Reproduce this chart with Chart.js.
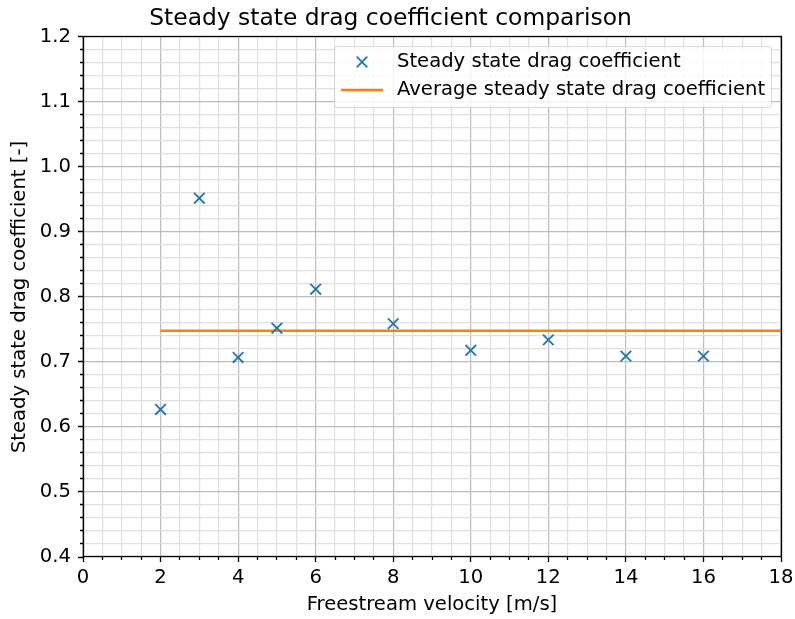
<!DOCTYPE html>
<html>
<head>
<meta charset="utf-8">
<script src="https://cdn.jsdelivr.net/npm/chart.js@4.4.1/dist/chart.umd.min.js"></script>
<style>
  body { margin: 0; background: #fff; }
</style>
</head>
<body>
<canvas id="chart" width="795" height="619"></canvas>
<script>
// Measured steady state drag coefficient per freestream velocity
const velocities = [2, 3, 4, 5, 6, 8, 10, 12, 14, 16];
const dragCoefficients = [0.627, 0.952, 0.707, 0.752, 0.812, 0.759, 0.718, 0.734, 0.709, 0.709];

// Average line, drawn from the first velocity to the axis end
const averageVelocities = [2, 18];
const averageDrag = [0.748, 0.748];

const xRange = [0, 18];
const yRange = [0.4, 1.2];
const xMajorStep = 2, xMinorStep = 0.5;
const yMajorStep = 0.1, yMinorStep = 0.02;

const FONT = "'DejaVu Sans', 'Liberation Sans', sans-serif";
const LABEL_SIZE = 19.6;
const TITLE_SIZE = 23.4;
const BLUE = '#1f77b4';
const ORANGE = '#ff7f0e';
const MAJOR_GRID = '#bcbcbc';
const MINOR_GRID = '#dfdfdf';

const isMultiple = (v, step) => Math.abs(v / step - Math.round(v / step)) < 1e-6;
const align = p => Math.round(p - 0.5) + 0.5;

// Black frame around the plot plus matplotlib-style major/minor tick marks
const frameAndTicks = {
  id: 'frameAndTicks',
  afterDraw(chart) {
    const { ctx, chartArea: a, scales: { x, y } } = chart;
    ctx.save();
    ctx.strokeStyle = '#000';
    ctx.lineWidth = 1.3;
    ctx.beginPath();
    x.ticks.forEach(t => {
      const px = align(x.getPixelForValue(t.value));
      const len = isMultiple(t.value, xMajorStep) ? 5 : 3;
      ctx.moveTo(px, a.bottom);
      ctx.lineTo(px, a.bottom + len);
    });
    y.ticks.forEach(t => {
      const py = align(y.getPixelForValue(t.value));
      const len = isMultiple(t.value, yMajorStep) ? 5 : 3;
      ctx.moveTo(a.left, py);
      ctx.lineTo(a.left - len, py);
    });
    ctx.stroke();
    ctx.strokeRect(align(a.left), align(a.top), Math.round(a.right - a.left), Math.round(a.bottom - a.top));
    ctx.restore();
  }
};

// Legend box in the upper right corner of the plot area
const insideLegend = {
  id: 'insideLegend',
  afterDraw(chart) {
    const { ctx, chartArea: a } = chart;
    const sets = chart.data.datasets;
    const boxW = 437, boxH = 61;
    const bx = a.right - 10 - boxW;
    const by = a.top + 9;
    ctx.save();
    ctx.beginPath();
    ctx.roundRect(bx + 0.5, by + 0.5, boxW, boxH, 3);
    ctx.fillStyle = 'rgba(255,255,255,0.8)';
    ctx.fill();
    ctx.strokeStyle = 'rgba(204,204,204,0.8)';
    ctx.lineWidth = 1;
    ctx.stroke();

    const rowY = [by + 16, by + 44];
    const markX = bx + 28;

    // scatter marker
    const r = 5.3;
    ctx.strokeStyle = BLUE;
    ctx.lineWidth = 1.8;
    ctx.beginPath();
    ctx.moveTo(markX - r, rowY[0] - r); ctx.lineTo(markX + r, rowY[0] + r);
    ctx.moveTo(markX - r, rowY[0] + r); ctx.lineTo(markX + r, rowY[0] - r);
    ctx.stroke();

    // line sample
    ctx.strokeStyle = ORANGE;
    ctx.lineWidth = 2.4;
    ctx.beginPath();
    ctx.moveTo(markX - 21, rowY[1]);
    ctx.lineTo(markX + 21, rowY[1]);
    ctx.stroke();

    ctx.fillStyle = '#000';
    ctx.font = `${LABEL_SIZE}px ${FONT}`;
    ctx.textBaseline = 'middle';
    ctx.textAlign = 'left';
    sets.forEach((ds, i) => ctx.fillText(ds.label, bx + 63, rowY[i]));
    ctx.restore();
  }
};

const ctx = document.getElementById('chart').getContext('2d');
new Chart(ctx, {
  type: 'scatter',
  data: {
    datasets: [
      {
        label: 'Steady state drag coefficient',
        data: velocities.map((v, i) => ({ x: v, y: dragCoefficients[i] })),
        pointStyle: 'crossRot',
        pointRadius: 7.5,
        pointBorderWidth: 1.8,
        borderColor: BLUE,
        backgroundColor: BLUE,
        order: 1,
      },
      {
        type: 'line',
        label: 'Average steady state drag coefficient',
        data: averageVelocities.map((v, i) => ({ x: v, y: averageDrag[i] })),
        borderColor: ORANGE,
        borderWidth: 2.4,
        pointRadius: 0,
        fill: false,
        order: 2,
      },
    ],
  },
  options: {
    responsive: false,
    animation: false,
    devicePixelRatio: 1,
    layout: { padding: { left: 0, right: 14, top: 0, bottom: 0 } },
    plugins: {
      legend: { display: false },
      tooltip: { enabled: false },
      title: {
        display: true,
        text: 'Steady state drag coefficient comparison',
        color: '#000',
        font: { family: FONT, size: TITLE_SIZE, weight: 'normal' },
        padding: { top: 5, bottom: 3.9 },
      },
    },
    scales: {
      x: {
        type: 'linear',
        min: xRange[0],
        max: xRange[1],
        afterFit: scale => {
          scale.height = 62;
          scale.paddingLeft = 0;
          scale.paddingRight = 0;
        },
        ticks: {
          stepSize: xMinorStep,
          autoSkip: false,
          maxRotation: 0,
          padding: 9,
          color: '#000',
          font: { family: FONT, size: LABEL_SIZE },
          callback: v => isMultiple(v, xMajorStep) ? String(Math.round(v)) : '',
        },
        grid: {
          drawTicks: false,
          lineWidth: 1.2,
          color: c => isMultiple(c.tick.value, xMajorStep) ? MAJOR_GRID : MINOR_GRID,
        },
        border: { display: false },
        title: {
          display: true,
          text: 'Freestream velocity [m/s]',
          color: '#000',
          font: { family: FONT, size: LABEL_SIZE },
          padding: { top: 0, bottom: 2.5 },
        },
      },
      y: {
        type: 'linear',
        min: yRange[0],
        max: yRange[1],
        afterFit: scale => {
          scale.width = 83;
          scale.paddingTop = 0;
          scale.paddingBottom = 0;
        },
        ticks: {
          stepSize: yMinorStep,
          autoSkip: false,
          padding: 12,
          color: '#000',
          font: { family: FONT, size: LABEL_SIZE },
          callback: v => isMultiple(v, yMajorStep) ? v.toFixed(1) : '',
        },
        grid: {
          drawTicks: false,
          lineWidth: 1.2,
          color: c => isMultiple(c.tick.value, yMajorStep) ? MAJOR_GRID : MINOR_GRID,
        },
        border: { display: false },
        title: {
          display: true,
          text: 'Steady state drag coefficient [-]',
          color: '#000',
          font: { family: FONT, size: LABEL_SIZE },
          padding: { top: 8.5, bottom: 0 },
        },
      },
    },
  },
  plugins: [frameAndTicks, insideLegend],
});
</script>
</body>
</html>
